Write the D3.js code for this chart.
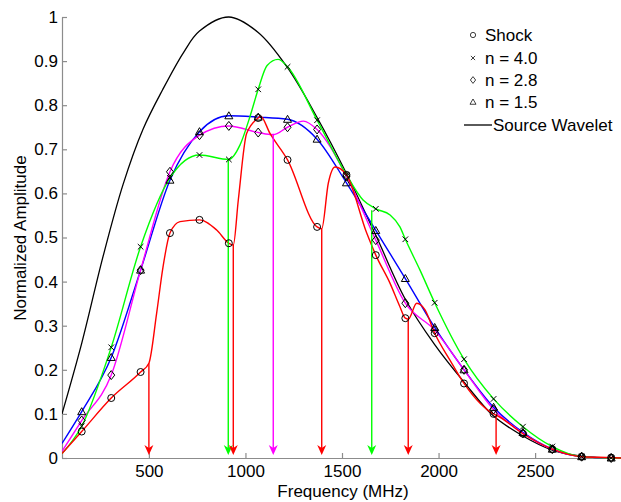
<!DOCTYPE html>
<meta charset="utf-8">
<title>Normalized Amplitude vs Frequency</title>
<script src="https://cdn.jsdelivr.net/npm/d3@7"></script>
<style>
  body { margin: 0; background: #fff; }
  svg text { font-family: "Liberation Sans", Arial, sans-serif; fill: #000; }
</style>
<div id="chart"></div>
<script>
  // marker frequencies (MHz), shared by all spectra
  var markerFreqs = [152, 305, 457, 609, 762, 914, 1066, 1218, 1371, 1523, 1675, 1828, 1980, 2132, 2285, 2437, 2589, 2741, 2894];

  // amplitudes at the markers
  var shockMarks = [0.06, 0.136, 0.195, 0.51, 0.54, 0.487, 0.771, 0.676, 0.524, 0.642, 0.46, 0.317, 0.283, 0.169, 0.10, 0.055, 0.02, 0.003, 0.001];
  var n40Marks = [0.072, 0.251, 0.479, 0.635, 0.687, 0.677, 0.836, 0.887, 0.766, 0.642, 0.565, 0.496, 0.352, 0.224, 0.134, 0.071, 0.026, 0.003, 0.0];
  var n28Marks = [0.085, 0.188, 0.426, 0.649, 0.732, 0.753, 0.738, 0.75, 0.745, 0.639, 0.494, 0.351, 0.29, 0.2, 0.11, 0.056, 0.02, 0.003, 0.0];
  var n15Marks = [0.105, 0.228, 0.426, 0.63, 0.74, 0.776, 0.773, 0.768, 0.723, 0.624, 0.516, 0.407, 0.296, 0.2, 0.115, 0.058, 0.02, 0.003, 0.0];

  // extra points of the interpolated curves, between the markers
  var shockExtraF = [50, 500, 540, 573, 661, 851, 937, 963, 1006, 1078, 1127, 1395, 1429, 1464, 1628, 1749, 1800, 1843, 1887, 1930, 2059, 2215, 2298, 2950];
  var shockExtraV = [0.01, 0.215, 0.328, 0.433, 0.536, 0.517, 0.483, 0.585, 0.736, 0.775, 0.736, 0.52, 0.623, 0.66, 0.51, 0.396, 0.343, 0.315, 0.351, 0.336, 0.222, 0.124, 0.0975, 0];
  var n40ExtraF = [50, 972, 1024, 1112, 1169, 1609, 1749, 1800, 1904, 2950];
  var n40ExtraV = [0.01, 0.71, 0.775, 0.89, 0.904, 0.585, 0.551, 0.524, 0.426, 0];
  var n28ExtraF = [50, 1144, 1300, 2950];
  var n28ExtraV = [0.015, 0.733, 0.764, 0];
  var n15ExtraF = [50, 2950];
  var n15ExtraV = [0.033, 0];

  // source wavelet spectrum
  var sourceF = [50, 152, 262, 366, 469, 571, 680, 762, 914, 1066, 1218, 1371, 1523, 1675, 1828, 1980, 2132, 2285, 2437, 2589, 2741, 2894, 2950];
  var sourceV = [0.10, 0.26, 0.456, 0.62, 0.745, 0.835, 0.92, 0.968, 1.0, 0.965, 0.885, 0.772, 0.645, 0.505, 0.36, 0.257, 0.172, 0.095, 0.05, 0.018, 0.004, 0.0, 0.0];

  // arrows pointing at spectral notches
  var redArrowF = [500, 937, 1395, 1843, 2298];
  var redArrowV = [0.215, 0.483, 0.52, 0.315, 0.0975];
  var greenArrowF = [911, 1654];
  var greenArrowV = [0.677, 0.562];
  var magentaArrowF = [1144];
  var magentaArrowV = [0.735];

  var xTicks = [500, 1000, 1500, 2000, 2500];
  var yTicks = [0, 0.1, 0.2, 0.3, 0.4, 0.5, 0.6, 0.7, 0.8, 0.9, 1];
  var legendLabels = ["Shock", "n = 4.0", "n = 2.8", "n = 1.5", "Source Wavelet"];

  var width = 621, height = 502;
  var svg = d3.select("#chart").append("svg")
    .attr("width", width)
    .attr("height", height);

  var x = d3.scaleLinear().domain([50, 2950]).range([62, 622]);
  var y = d3.scaleLinear().domain([0, 1]).range([458, 17]);

  // axes, ticks pointing inward
  var xAxis = svg.append("g")
    .attr("transform", "translate(0," + y(0) + ")")
    .call(d3.axisBottom(x).tickValues(xTicks).tickFormat(d3.format("d")).tickSize(-5).tickSizeOuter(0).tickPadding(7));
  var yAxis = svg.append("g")
    .attr("transform", "translate(" + x(50) + ",0)")
    .call(d3.axisLeft(y).tickValues(yTicks).tickFormat(d3.format("")).tickSize(-5).tickSizeOuter(0).tickPadding(4));

  svg.selectAll(".domain, .tick line").attr("stroke", "#8c8c8c").attr("stroke-width", 1.2);
  svg.selectAll(".tick text").style("font-size", "17px").style("font-family", '"Liberation Sans", Arial, sans-serif').attr("fill", "#000");

  svg.append("text")
    .attr("x", 343)
    .attr("y", 497)
    .attr("text-anchor", "middle")
    .style("font-size", "17px")
    .text("Frequency (MHz)");

  svg.append("text")
    .attr("transform", "translate(26,238) rotate(-90)")
    .attr("text-anchor", "middle")
    .style("font-size", "17px")
    .text("Normalized Amplitude");

  var plot = svg.append("g");
  plot.append("clipPath").attr("id", "clip")
    .append("rect").attr("x", 62).attr("y", 0).attr("width", 560).attr("height", 470);

  function buildCurve(freqs, marks, extraF, extraV) {
    var pts = freqs.map(function (f, i) { return [f, marks[i]]; })
      .concat(extraF.map(function (f, i) { return [f, extraV[i]]; }));
    pts.sort(function (a, b) { return a[0] - b[0]; });
    return pts;
  }

  var line = d3.line()
    .x(function (d) { return x(d[0]); })
    .y(function (d) { return y(d[1]); })
    .curve(d3.curveMonotoneX);

  var smoothLine = d3.line()
    .x(function (d) { return x(d[0]); })
    .y(function (d) { return y(d[1]); })
    .curve(d3.curveCatmullRom.alpha(0.5));

  var series = [
    { name: "n = 1.5", color: "#0000ff", marks: n15Marks, pts: buildCurve(markerFreqs, n15Marks, n15ExtraF, n15ExtraV), shape: "triangle" },
    { name: "n = 2.8", color: "#ff00ff", marks: n28Marks, pts: buildCurve(markerFreqs, n28Marks, n28ExtraF, n28ExtraV), shape: "diamond" },
    { name: "n = 4.0", color: "#00ff00", marks: n40Marks, pts: buildCurve(markerFreqs, n40Marks, n40ExtraF, n40ExtraV), shape: "cross" },
    { name: "Shock", color: "#ff0000", marks: shockMarks, pts: buildCurve(markerFreqs, shockMarks, shockExtraF, shockExtraV), shape: "circle" }
  ];

  var curves = plot.append("g").attr("clip-path", "url(#clip)");

  // source wavelet
  curves.append("path")
    .datum(sourceF.map(function (f, i) { return [f, sourceV[i]]; }))
    .attr("d", smoothLine)
    .attr("fill", "none")
    .attr("stroke", "#000")
    .attr("stroke-width", 1.3);

  series.forEach(function (s) {
    curves.append("path")
      .datum(s.pts)
      .attr("d", line)
      .attr("fill", "none")
      .attr("stroke", s.color)
      .attr("stroke-width", 1.4);
  });

  // arrows
  function drawArrows(freqs, tops, color) {
    var g = plot.append("g");
    freqs.forEach(function (f, i) {
      var ax = x(f), tip = y(0) - 3;
      g.append("line")
        .attr("x1", ax).attr("x2", ax)
        .attr("y1", y(tops[i])).attr("y2", tip - 6)
        .attr("stroke", color).attr("stroke-width", 1.4);
      g.append("path")
        .attr("d", "M" + (ax - 4.5) + "," + (tip - 10) + "L" + ax + "," + (tip - 7) + "L" + (ax + 4.5) + "," + (tip - 10) + "L" + ax + "," + tip + "Z")
        .attr("fill", color);
    });
  }
  drawArrows(greenArrowF, greenArrowV, "#00ff00");
  drawArrows(redArrowF, redArrowV, "#ff0000");
  drawArrows(magentaArrowF, magentaArrowV, "#ff00ff");

  // marker shapes
  function markerPath(shape, cx, cy) {
    if (shape === "circle") {
      return "M" + (cx + 3.5) + "," + cy + "A3.5,3.5 0 1,1 " + (cx - 3.5) + "," + cy + "A3.5,3.5 0 1,1 " + (cx + 3.5) + "," + cy;
    } else if (shape === "cross") {
      return "M" + (cx - 2.8) + "," + (cy - 2.8) + "L" + (cx + 2.8) + "," + (cy + 2.8) +
        "M" + (cx - 2.8) + "," + (cy + 2.8) + "L" + (cx + 2.8) + "," + (cy - 2.8);
    } else if (shape === "diamond") {
      return "M" + cx + "," + (cy - 4.5) + "L" + (cx + 3.5) + "," + cy + "L" + cx + "," + (cy + 4.5) + "L" + (cx - 3.5) + "," + cy + "Z";
    } else {
      return "M" + cx + "," + (cy - 4) + "L" + (cx + 4) + "," + (cy + 3) + "L" + (cx - 4) + "," + (cy + 3) + "Z";
    }
  }

  var markers = plot.append("g");
  series.forEach(function (s) {
    markers.selectAll(null)
      .data(markerFreqs.map(function (f, i) { return [f, s.marks[i]]; }))
      .enter().append("path")
      .attr("d", function (d) { return markerPath(s.shape, x(d[0]), y(d[1])); })
      .attr("fill", "none")
      .attr("stroke", "#000")
      .attr("stroke-width", 1);
  });

  // legend
  var legendShapes = ["circle", "cross", "diamond", "triangle", "line"];
  var legendY = [35, 58, 80, 102, 125];
  var legend = svg.append("g");
  legendLabels.forEach(function (lab, i) {
    if (legendShapes[i] === "line") {
      legend.append("line")
        .attr("x1", 464).attr("x2", 492)
        .attr("y1", legendY[i]).attr("y2", legendY[i])
        .attr("stroke", "#000").attr("stroke-width", 1.3);
    } else {
      legend.append("path")
        .attr("d", markerPath(legendShapes[i], 473, legendY[i]))
        .attr("transform", "translate(473," + legendY[i] + ") scale(0.75) translate(-473," + (-legendY[i]) + ")")
        .attr("fill", "none").attr("stroke", "#000").attr("stroke-width", 1);
    }
    legend.append("text")
      .attr("x", i === 4 ? 493 : 485)
      .attr("y", legendY[i])
      .attr("dy", "0.36em")
      .style("font-size", "17px")
      .text(lab);
  });
</script>
